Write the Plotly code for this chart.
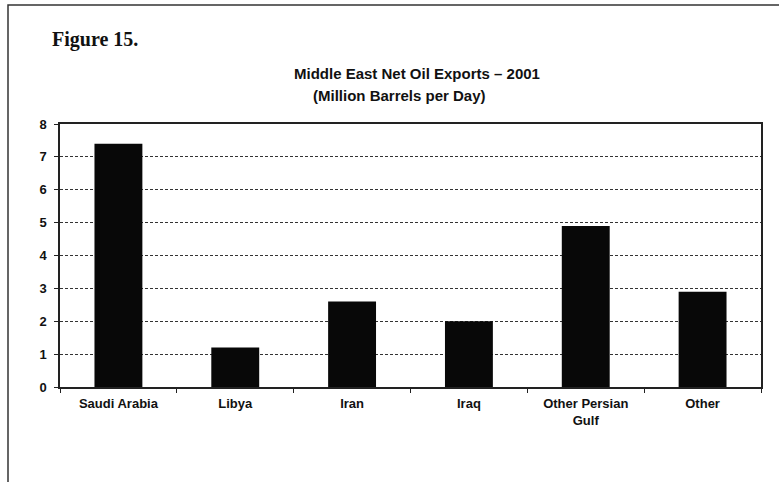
import plotly.graph_objects as go

categories = ["Saudi Arabia", "Libya", "Iran", "Iraq", "Other Persian<br>Gulf", "Other"]
exports_mbd = [7.4, 1.2, 2.6, 2.0, 4.9, 2.9]
y_ticks = [0, 1, 2, 3, 4, 5, 6, 7, 8]

W, H = 779, 482
ML, MR, MT, MB = 60, 18, 124, 95
pw, ph = W - ML - MR, H - MT - MB

def px(x):
    return (x - ML) / pw

def py(y):
    return (H - MB - y) / ph

FAM = "Liberation Sans, Arial, sans-serif"
font_tick = dict(family=FAM, size=13, color="#111111", weight="bold")
font_title = dict(family=FAM, size=15, color="#111111", weight="bold")

fig = go.Figure(go.Bar(
    x=categories, y=exports_mbd,
    marker=dict(color="#080808", line=dict(width=0)),
))

fig.update_layout(
    width=W, height=H,
    margin=dict(l=ML, r=MR, t=MT, b=MB),
    paper_bgcolor="white", plot_bgcolor="white",
    showlegend=False,
    bargap=0.59,
    font=font_tick,
    xaxis=dict(
        showline=True, linecolor="#222222", linewidth=1.5, mirror=True,
        ticks="outside", tickson="boundaries", ticklen=4, tickcolor="#222222",
        ticklabelstandoff=4,
        tickfont=font_tick, showgrid=False,
    ),
    yaxis=dict(
        range=[0, 8], tickvals=y_ticks, ticktext=[str(v) for v in y_ticks],
        showline=True, linecolor="#222222", linewidth=1.5, mirror=True,
        ticks="outside", ticklen=4, tickcolor="#222222",
        ticklabelstandoff=5,
        showgrid=True, gridcolor="#333333", gridwidth=1, griddash="3px,2px",
        tickfont=font_tick, zeroline=False,
    ),
    shapes=[
        dict(type="rect", xref="paper", yref="paper",
             x0=px(8), x1=px(800), y0=py(510), y1=py(5),
             line=dict(color="#333333", width=1.5), fillcolor="rgba(0,0,0,0)", layer="below"),
    ],
    annotations=[
        dict(text="Figure 15.", xref="paper", yref="paper", x=px(50), y=py(40),
             xanchor="left", yanchor="middle", showarrow=False,
             font=dict(family="Liberation Serif, Times New Roman, serif", size=20, color="#111111", weight="bold")),
        dict(text="Middle East Net Oil Exports \u2013 2001", xref="paper", yref="paper", x=px(417), y=py(73),
             xanchor="center", yanchor="middle", showarrow=False, font=font_title),
        dict(text="(Million Barrels per Day)", xref="paper", yref="paper", x=px(399), y=py(95),
             xanchor="center", yanchor="middle", showarrow=False, font=font_title),
    ],
)

fig.write_html("out.html", config={"displayModeBar": False},
               post_script="document.body.style.margin='0';document.body.style.padding='0';")
